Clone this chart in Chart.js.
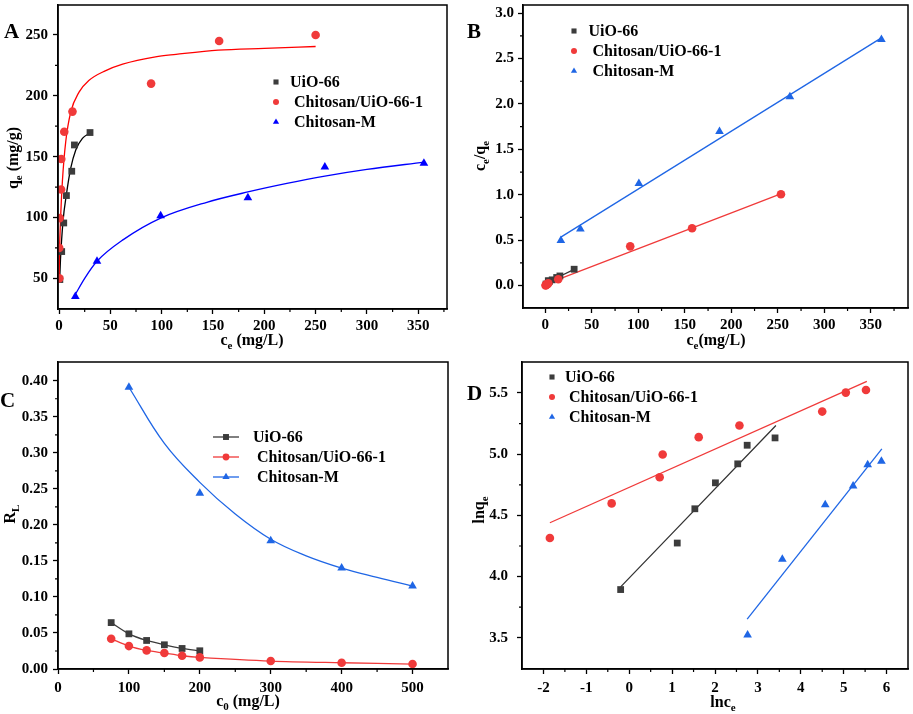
<!DOCTYPE html>
<html>
<head>
<meta charset="utf-8">
<script src="https://cdn.jsdelivr.net/npm/chart.js@4.4.1/dist/chart.umd.min.js"></script>
<style>
  html, body { margin: 0; padding: 0; background: #fff; }
  #fig { position: relative; width: 913px; height: 714px; }
  #fig canvas { position: absolute; }
</style>
</head>
<body>
<div id="fig">
  <canvas id="pA" width="456" height="357" style="left:0;top:0"></canvas>
  <canvas id="pB" width="457" height="357" style="left:456px;top:0"></canvas>
  <canvas id="pC" width="456" height="357" style="left:0;top:357px"></canvas>
  <canvas id="pD" width="457" height="357" style="left:456px;top:357px"></canvas>
</div>
<script>
const FONT = '"Liberation Serif", "Times New Roman", serif';
const GREY = '#3c3c3c', RED = '#f03a3a', BLUE_A = '#0000ff', BLUE = '#1f66e5';
const NAMES = ['UiO-66', ' Chitosan/UiO-66-1', ' Chitosan-M'];

// A: qe vs ce
const aUioCe = [0.8, 2.6, 4.6, 7.2, 12.4, 15.0, 30.2];
const aUioQe = [49, 72, 95.5, 118, 138, 159.6, 169.8];
const aChiCe = [0.3, 0.16, 0.66, 2.0, 2.2, 5.1, 13.1, 89.7, 156, 250];
const aChiQe = [50, 75, 99.5, 123, 148, 170.5, 187, 210, 245, 250];
const aMCe = [15.9, 37, 99, 184, 259, 355.5];
const aMQe = [35.1, 64.1, 101.4, 116.3, 141.5, 144.5];
// fitted curves
const aUioFitCe = [0.6, 1.4, 3.9, 7.2, 11.4, 16.3, 22.8, 30.2];
const aUioFitQe = [48, 65, 97, 119, 140.5, 155.5, 165, 169.5];
const aChiFitCe = [0.1, 0.5, 1.4, 3.3, 6.5, 11.4, 19.5, 29, 45, 62, 94, 114, 155, 200, 250];
const aChiFitQe = [50, 72, 97, 130, 162, 186.5, 203, 212.5, 220.5, 226, 232, 234, 237.5, 239, 240.5];
const aMFitCe = [15, 25, 37, 63, 99, 144, 184, 222, 259, 300, 355.5];
const aMFitQe = [35.5, 50, 64, 82, 99.5, 112.5, 121, 128, 134, 139.5, 145.5];
const aXTicks = [0, 50, 100, 150, 200, 250, 300, 350];
const aYTicks = [50, 100, 150, 200, 250];

// B: ce/qe vs ce
const bUioCe = [0.8, 3.2, 4.6, 7.4, 12.2, 15.7, 31];
const bUioR = [0.017, 0.054, 0.048, 0.063, 0.089, 0.106, 0.18];
const bChiCe = [0.3, 0.7, 0.66, 2.0, 2.2, 3.2, 13.9, 91.3, 157.8, 253.4];
const bChiR = [0.001, 0.008, 0.007, 0.016, 0.015, 0.026, 0.07, 0.432, 0.631, 1.005];
const bMCe = [16.7, 37.7, 100.6, 187.3, 263, 361.4];
const bMR = [0.497, 0.624, 1.125, 1.698, 2.079, 2.71];
const bUioFitCe = [2, 31], bUioFitR = [0.035, 0.178];
const bChiFitCe = [1.4, 253.8], bChiFitR = [0.018, 1.012];
const bMFitCe = [16.7, 361.4], bMFitR = [0.533, 2.728];
const bXTicks = [0, 50, 100, 150, 200, 250, 300, 350];
const bYTicks = [0, 0.5, 1.0, 1.5, 2.0, 2.5, 3.0];

// C: RL vs c0
const cUioC0 = [75, 100, 125, 150, 175, 200];
const cUioRl = [0.0644, 0.0488, 0.0396, 0.0336, 0.0285, 0.0253];
const cChiC0 = [75, 100, 125, 150, 175, 200, 300, 400, 500];
const cChiRl = [0.0419, 0.0318, 0.0258, 0.0221, 0.0184, 0.0161, 0.011, 0.0087, 0.0069];
const cMC0 = [100, 200, 300, 400, 500];
const cMRl = [0.391, 0.244, 0.178, 0.140, 0.115];
const cMCurveC0 = [100, 150, 200, 250, 300, 350, 400, 450, 500];
const cMCurveRl = [0.391, 0.313, 0.259, 0.215, 0.180, 0.157, 0.140, 0.127, 0.115];
const cXTicks = [0, 100, 200, 300, 400, 500];
const cYTicks = [0, 0.05, 0.10, 0.15, 0.20, 0.25, 0.30, 0.35, 0.40];

// D: lnqe vs lnce
const dUioX = [-0.20, 1.12, 1.53, 2.01, 2.53, 2.75, 3.40];
const dUioY = [3.894, 4.274, 4.554, 4.766, 4.921, 5.073, 5.133];
const dChiX = [-1.85, -0.41, 0.71, 0.78, 1.62, 2.57, 4.50, 5.05, 5.52];
const dChiY = [4.315, 4.598, 4.812, 4.997, 5.139, 5.234, 5.348, 5.503, 5.524];
const dMX = [2.76, 3.57, 4.57, 5.22, 5.56, 5.88];
const dMY = [3.522, 4.141, 4.587, 4.739, 4.913, 4.943];
const dUioFitX = [-0.2, 3.42], dUioFitY = [3.916, 5.234];
const dChiFitX = [-1.85, 5.54], dChiFitY = [4.44, 5.595];
const dMFitX = [2.75, 5.89], dMFitY = [3.652, 5.043];
const dXTicks = [-2, -1, 0, 1, 2, 3, 4, 5, 6];
const dYTicks = [3.5, 4.0, 4.5, 5.0, 5.5];

const pts = (xs, ys) => xs.map((x, i) => ({ x, y: ys[i] }));

function marks(xs, ys, style, color, r) {
  return { data: pts(xs, ys), pointStyle: style, pointRadius: r, pointBackgroundColor: color,
    pointBorderWidth: 0, pointHoverRadius: r, showLine: false };
}
function curve(xs, ys, color, w) {
  return { data: pts(xs, ys), showLine: true, pointRadius: 0, borderColor: color,
    borderWidth: w || 1.3, cubicInterpolationMode: 'monotone', fill: false };
}
function linked(xs, ys, style, color, r) {
  const d = marks(xs, ys, style, color, r);
  d.showLine = true; d.borderColor = color; d.borderWidth = 1.3; d.tension = 0.3;
  return d;
}

function mark(ctx, style, x, y, r, color) {
  ctx.fillStyle = color;
  ctx.beginPath();
  if (style === 'rect') {
    const s = r * Math.SQRT1_2;
    ctx.rect(x - s, y - s, 2 * s, 2 * s);
  } else if (style === 'triangle') {
    for (let k = 0; k < 3; k++) {
      const a = k * 2 * Math.PI / 3;
      ctx.lineTo(x + Math.sin(a) * r, y - Math.cos(a) * r);
    }
    ctx.closePath();
  } else {
    ctx.arc(x, y, r, 0, 2 * Math.PI);
  }
  ctx.fill();
}

// text with subscripts: parts = [[text, isSub], ...]
function rich(ctx, parts, x, y, rot) {
  const big = 'bold 16px ' + FONT, small = 'bold 11px ' + FONT;
  let w = 0;
  parts.forEach(p => { ctx.font = p[1] ? small : big; w += ctx.measureText(p[0]).width; });
  ctx.save();
  ctx.translate(x, y);
  if (rot) ctx.rotate(-Math.PI / 2);
  ctx.fillStyle = '#000';
  ctx.textBaseline = 'alphabetic';
  let cx = -w / 2;
  parts.forEach(p => {
    ctx.font = p[1] ? small : big;
    ctx.fillText(p[0], cx, p[1] ? 4 : 0);
    cx += ctx.measureText(p[0]).width;
  });
  ctx.restore();
}

function minors(list, min, max) {
  const out = [];
  const step = list[1] - list[0];
  const all = [list[0] - step / 2].concat(list.map(v => v + step / 2));
  all.forEach(v => { if (v > min && v < max) out.push(v); });
  return out;
}

const decor = {
  id: 'decor',
  afterDraw(chart, args, o) {
    const ctx = chart.ctx, a = chart.chartArea;
    const xs = chart.scales.x, ys = chart.scales.y;
    ctx.save();
    ctx.strokeStyle = '#000';
    ctx.lineWidth = 1.2;
    ctx.beginPath();
    minors(o.xTicks, xs.min, xs.max).forEach(v => {
      const p = xs.getPixelForValue(v);
      if (p - a.left > 1.5 && a.right - p > 1.5) { ctx.moveTo(p, a.bottom); ctx.lineTo(p, a.bottom + 3); }
    });
    minors(o.yTicks, ys.min, ys.max).forEach(v => {
      const p = ys.getPixelForValue(v);
      if (p - a.top > 1.5 && a.bottom - p > 1.5) { ctx.moveTo(a.left, p); ctx.lineTo(a.left - 3, p); }
    });
    ctx.stroke();
    ctx.lineWidth = 1.5;
    ctx.strokeRect(a.left, a.top, a.right - a.left, a.bottom - a.top);

    // panel letter
    ctx.fillStyle = '#000';
    ctx.font = 'bold 21px ' + FONT;
    ctx.textBaseline = 'alphabetic';
    ctx.fillText(o.letter[0], o.letter[1], o.letter[2]);

    rich(ctx, o.xTitle[0], o.xTitle[1], o.xTitle[2], false);
    rich(ctx, o.yTitle[0], o.yTitle[1], o.yTitle[2], true);

    // legend
    const L = o.legend;
    ctx.font = 'bold 16px ' + FONT;
    L.rows.forEach((row, i) => {
      const y = L.y + i * L.dy;
      if (L.line) {
        ctx.strokeStyle = row.color; ctx.lineWidth = 1.3;
        ctx.beginPath(); ctx.moveTo(L.x - 13, y); ctx.lineTo(L.x + 13, y); ctx.stroke();
      }
      mark(ctx, row.style, L.x, y, row.r, row.color);
      ctx.fillStyle = '#000';
      ctx.textBaseline = 'middle';
      ctx.fillText(NAMES[i], L.tx, y + 1);
    });
    ctx.restore();
  }
};

function axis(s, dir) {
  return {
    type: 'linear', min: s.min, max: s.max,
    afterFit: sc => {
      if (dir === 'x') sc.height = s.size; else sc.width = s.size;
      sc.paddingTop = 0; sc.paddingBottom = 0; sc.paddingLeft = 0; sc.paddingRight = 0;
    },
    afterBuildTicks: sc => { sc.ticks = s.ticks.map(v => ({ value: v })); },
    border: { display: true, color: '#000', width: 1.5 },
    grid: { drawOnChartArea: false, drawTicks: true, tickLength: 5, tickColor: '#000', tickWidth: 1.3 },
    ticks: {
      autoSkip: false, maxRotation: 0, padding: s.padding, color: '#000',
      font: { family: FONT, size: 15, weight: 'bold' },
      callback: v => Number(v).toFixed(s.dec)
    }
  };
}

function panel(id, o) {
  return new Chart(document.getElementById(id), {
    type: 'scatter',
    data: { datasets: o.datasets },
    options: {
      responsive: false, animation: false, devicePixelRatio: 1,
      layout: { padding: o.pad },
      plugins: { legend: { display: false }, tooltip: { enabled: false }, decor: o.decor },
      scales: { x: axis(o.x, 'x'), y: axis(o.y, 'y') }
    },
    plugins: [decor]
  });
}

panel('pA', {
  pad: { left: 0, right: 9, top: 2, bottom: 0 },
  x: { min: -1, max: 378, ticks: aXTicks, dec: 0, size: 48, padding: 3 },
  y: { min: 24.8, max: 274.6, ticks: aYTicks, dec: 0, size: 58, padding: 5 },
  datasets: [
    marks(aChiCe, aChiQe, 'circle', RED, 4.3),
    marks(aUioCe, aUioQe, 'rect', GREY, 4.8),
    marks(aMCe, aMQe, 'triangle', BLUE_A, 5),
    curve(aChiFitCe, aChiFitQe, '#ff0000'),
    curve(aUioFitCe, aUioFitQe, '#000000'),
    curve(aMFitCe, aMFitQe, BLUE_A)
  ],
  decor: {
    xTicks: aXTicks, yTicks: aYTicks,
    letter: ['A', 4, 38],
    xTitle: [[['c', 0], ['e', 1], [' (mg/L)', 0]], 252, 345],
    yTitle: [[['q', 0], ['e', 1], [' (mg/g)', 0]], 18, 158],
    legend: { x: 276, y: 82, dy: 20, tx: 290, rows: [
      { style: 'rect', r: 3.6, color: GREY },
      { style: 'circle', r: 3, color: RED },
      { style: 'triangle', r: 3.6, color: BLUE_A }] }
  }
});

panel('pB', {
  pad: { left: 0, right: 2, top: 2, bottom: 0 },
  x: { min: -24, max: 390, ticks: bXTicks, dec: 0, size: 49, padding: 3 },
  y: { min: -0.247, max: 3.09, ticks: bYTicks, dec: 1, size: 67, padding: 4 },
  datasets: [
    marks(bChiCe, bChiR, 'circle', RED, 4.3),
    marks(bUioCe, bUioR, 'rect', GREY, 4.8),
    marks(bMCe, bMR, 'triangle', BLUE, 5),
    curve(bChiFitCe, bChiFitR, RED),
    curve(bUioFitCe, bUioFitR, '#333333'),
    curve(bMFitCe, bMFitR, BLUE)
  ],
  decor: {
    xTicks: bXTicks, yTicks: bYTicks,
    letter: ['B', 11, 38],
    xTitle: [[['c', 0], ['e', 1], ['(mg/L)', 0]], 260, 345],
    yTitle: [[['c', 0], ['e', 1], ['/q', 0], ['e', 1]], 29, 156],
    legend: { x: 118, y: 31, dy: 20, tx: 132.5, rows: [
      { style: 'rect', r: 3.6, color: GREY },
      { style: 'circle', r: 3, color: RED },
      { style: 'triangle', r: 3.6, color: BLUE }] }
  }
});

const cMCurve = curve(cMCurveC0, cMCurveRl, BLUE);
cMCurve.cubicInterpolationMode = 'default';
cMCurve.tension = 0.4;

panel('pC', {
  pad: { left: 0, right: 8, top: 4, bottom: 0 },
  x: { min: 0, max: 550, ticks: cXTicks, dec: 0, size: 45, padding: 5 },
  y: { min: 0, max: 0.426, ticks: cYTicks, dec: 2, size: 58, padding: 5 },
  datasets: [
    linked(cChiC0, cChiRl, 'circle', RED, 4.3),
    linked(cUioC0, cUioRl, 'rect', GREY, 4.8),
    marks(cMC0, cMRl, 'triangle', BLUE, 5),
    cMCurve
  ],
  decor: {
    xTicks: cXTicks, yTicks: cYTicks,
    letter: ['C', 0, 50],
    xTitle: [[['c', 0], ['0', 1], [' (mg/L)', 0]], 248, 348.5],
    yTitle: [[['R', 0], ['L', 1]], 14.5, 157],
    legend: { x: 226, y: 80, dy: 20, tx: 253, line: true, rows: [
      { style: 'rect', r: 4.2, color: GREY },
      { style: 'circle', r: 3.4, color: RED },
      { style: 'triangle', r: 4.2, color: BLUE }] }
  }
});

panel('pD', {
  pad: { left: 0, right: 2, top: 5, bottom: 0 },
  x: { min: -2.5, max: 6.5, ticks: dXTicks, dec: 0, size: 45, padding: 5 },
  y: { min: 3.245, max: 5.753, ticks: dYTicks, dec: 1, size: 66, padding: 9 },
  datasets: [
    marks(dChiX, dChiY, 'circle', RED, 4.3),
    marks(dUioX, dUioY, 'rect', GREY, 4.8),
    marks(dMX, dMY, 'triangle', BLUE, 5),
    curve(dChiFitX, dChiFitY, RED),
    curve(dUioFitX, dUioFitY, '#333333'),
    curve(dMFitX, dMFitY, BLUE)
  ],
  decor: {
    xTicks: dXTicks, yTicks: dYTicks,
    letter: ['D', 11, 42.5],
    xTitle: [[['lnc', 0], ['e', 1]], 267, 350],
    yTitle: [[['lnq', 0], ['e', 1]], 27.5, 153],
    legend: { x: 96, y: 20, dy: 20, tx: 109, rows: [
      { style: 'rect', r: 3.6, color: GREY },
      { style: 'circle', r: 3, color: RED },
      { style: 'triangle', r: 3.6, color: BLUE }] }
  }
});
</script>
</body>
</html>
